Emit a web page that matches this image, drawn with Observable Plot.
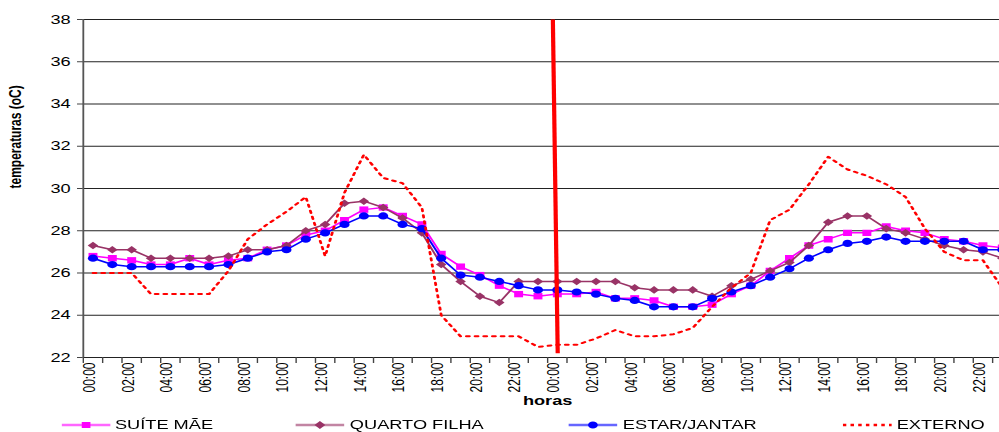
<!DOCTYPE html>
<html><head><meta charset="utf-8">
<script src="https://cdn.jsdelivr.net/npm/d3@7"></script>
<script src="https://cdn.jsdelivr.net/npm/@observablehq/plot@0.6"></script>
<style>
html,body{margin:0;padding:0;background:#fff;overflow:hidden;width:999px;height:432px;}
#wrap{position:absolute;left:0;top:0;width:713.57px;transform:scaleX(1.4);transform-origin:0 0;font-family:"Liberation Sans",Arial,sans-serif;}
#legend{position:relative;height:14px;}
.item{position:absolute;top:0;height:14px;line-height:14px;display:flex;align-items:center;font-size:13px;color:#000;white-space:nowrap;}
.item svg{margin-right:3.5px;display:block;}
</style></head><body>
<div id="wrap"><div id="chart"></div><div id="legend"></div></div>
<script>
const hours = ["00:00","01:00","02:00","03:00","04:00","05:00","06:00","07:00","08:00","09:00","10:00","11:00",
  "12:00","13:00","14:00","15:00","16:00","17:00","18:00","19:00","20:00","21:00","22:00","23:00",
  "00:00","01:00","02:00","03:00","04:00","05:00","06:00","07:00","08:00","09:00","10:00","11:00",
  "12:00","13:00","14:00","15:00","16:00","17:00","18:00","19:00","20:00","21:00","22:00","23:00"];
const suiteMae = [26.8,26.7,26.6,26.4,26.4,26.7,26.4,26.6,26.7,27.1,27.3,27.8,28.0,28.5,29.0,29.1,28.7,28.3,26.9,26.3,25.9,25.4,25.0,24.9,
  25.0,25.0,25.1,24.8,24.8,24.7,24.4,24.4,24.5,25.0,25.4,26.1,26.7,27.3,27.6,27.9,27.9,28.2,28.0,27.9,27.6,27.5,27.3,27.2];
const quartoFilha = [27.3,27.1,27.1,26.7,26.7,26.7,26.7,26.8,27.1,27.1,27.3,28.0,28.3,29.3,29.4,29.1,28.6,27.9,26.4,25.6,24.9,24.6,25.6,25.6,
  25.6,25.6,25.6,25.6,25.3,25.2,25.2,25.2,24.9,25.4,25.7,26.1,26.5,27.3,28.4,28.7,28.7,28.1,27.9,27.6,27.3,27.1,27.0,26.7];
const estarJantar = [26.7,26.4,26.3,26.3,26.3,26.3,26.3,26.4,26.7,27.0,27.1,27.6,27.9,28.3,28.7,28.7,28.3,28.1,26.7,25.9,25.8,25.6,25.4,25.2,
  25.2,25.1,25.0,24.8,24.7,24.4,24.4,24.4,24.8,25.1,25.4,25.8,26.2,26.7,27.1,27.4,27.5,27.7,27.5,27.5,27.5,27.5,27.1,27.1];
const externo = [26.0,26.0,26.0,25.0,25.0,25.0,25.0,26.1,27.6,28.3,28.9,29.6,26.8,29.8,31.6,30.5,30.25,29.1,24.0,23.0,23.0,23.0,23.0,22.5,
  22.6,22.6,22.9,23.3,23.0,23.0,23.1,23.4,24.4,25.3,26.0,28.5,29.0,30.2,31.5,30.9,30.6,30.2,29.6,28.1,27.0,26.6,26.6,25.3];
const yTicks = [22,24,26,28,30,32,34,36,38];
const seriesNames = ["SUÍTE MÃE","QUARTO FILHA","ESTAR/JANTAR","EXTERNO"];
const seriesColors = ["#ff00ff","#993366","#0000ff","#ff0000"];
const midnightMarker = [{top: 24.27, bottom: 24.52}];
const yTitle = "temperaturas (oC)";
const xTitle = "horas";

const S = 1.4;
const W = 999 / S;
const n = hours.length;
const xi = (d, i) => i + 0.5;

const chart = Plot.plot({
  width: W,
  height: 418,
  marginTop: 19,
  marginBottom: 61,
  marginLeft: 59,
  marginRight: 0,
  style: {fontFamily: "'Liberation Sans', Arial, sans-serif", fontSize: "13px", background: "white", color: "#000"},
  x: {type: "linear", domain: [0, n], range: [59, 59 + n * 13.82]},
  y: {domain: [22, 38], label: null},
  marks: [
    Plot.ruleY(yTicks, {stroke: "#222", strokeWidth: 1}),
    Plot.ruleX([0], {stroke: "#555", strokeWidth: 1.3}),
    Plot.axisX({ticks: d3.range(0, n + 1), tickSize: 6, tickFormat: () => "", stroke: "#444", label: null}),
    Plot.axisX({ticks: d3.range(0, n, 2).map(i => i + 0.5), tickSize: 0, tickPadding: 5, tickRotate: -90,
      tickFormat: d => hours[Math.floor(d)], fontSize: 12, dx: -2.5, label: null}),
    Plot.axisY({ticks: yTicks, tickSize: 4, tickPadding: 5, fontSize: 13, stroke: "#444", label: null}),
    Plot.text([yTitle], {frameAnchor: "left", dx: -48.5, rotate: -90, fontWeight: "bold", fontSize: 12}),
    Plot.text([xTitle], {x: () => n / 2, frameAnchor: "bottom", dy: 48, fontWeight: "bold", fontSize: 13}),
    Plot.line(suiteMae, {x: xi, y: d => d, stroke: seriesColors[0], strokeWidth: 1.5}),
    Plot.dot(suiteMae, {x: xi, y: d => d, symbol: "square", r: 3.6, fill: seriesColors[0], stroke: null}),
    Plot.line(quartoFilha, {x: xi, y: d => d, stroke: seriesColors[1], strokeWidth: 1.5}),
    Plot.dot(quartoFilha, {x: xi, y: d => d, symbol: "diamond2", r: 3.4, fill: seriesColors[1], stroke: null}),
    Plot.line(estarJantar, {x: xi, y: d => d, stroke: seriesColors[2], strokeWidth: 1.5}),
    Plot.dot(estarJantar, {x: xi, y: d => d, symbol: "circle", r: 3.6, fill: seriesColors[2], stroke: null}),
    Plot.line(externo, {x: xi, y: d => d, stroke: seriesColors[3], strokeWidth: 2, strokeDasharray: "2.2 4"}),
    Plot.link(midnightMarker, {x1: d => d.top, y1: () => 38, x2: d => d.bottom, y2: () => 22.2, stroke: "#ff0000", strokeWidth: 3})
  ]
});
document.getElementById("chart").appendChild(chart);

// legend
const legendLeft = [43.6, 211.4, 406.4, 602];
const symbols = ["square", "diamond2", "circle", null];
const legend = d3.select("#legend");
seriesNames.forEach((name, k) => {
  const item = legend.append("div").attr("class", "item").style("left", legendLeft[k] + "px");
  const svg = item.append("svg").attr("width", 35).attr("height", 14);
  if (k === 3) {
    svg.append("line").attr("x1", 0).attr("x2", 35).attr("y1", 7).attr("y2", 7)
      .attr("stroke", seriesColors[k]).attr("stroke-width", 2.5).attr("stroke-dasharray", "2.5 3");
  } else {
    svg.append("line").attr("x1", 0).attr("x2", 35).attr("y1", 7).attr("y2", 7)
      .attr("stroke", seriesColors[k]).attr("stroke-width", 2.6).attr("stroke-opacity", 0.6);
    svg.append("path").attr("transform", "translate(17.5,7)")
      .attr("d", d3.symbol(symbols[k] === "square" ? d3.symbolSquare : symbols[k] === "circle" ? d3.symbolCircle : d3.symbolDiamond2, Math.PI * 3.5 * 3.5)())
      .attr("fill", seriesColors[k]);
  }
  item.append("span").text(name);
});
</script>
</body></html>
